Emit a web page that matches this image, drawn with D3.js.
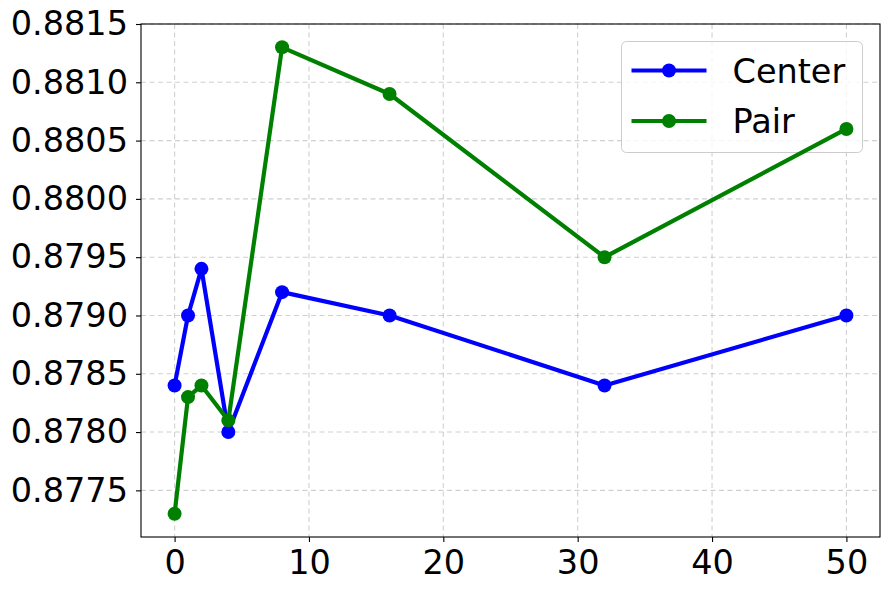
<!DOCTYPE html>
<html>
<head>
<meta charset="utf-8">
<script src="https://cdn.jsdelivr.net/npm/d3@7"></script>
<style>
  body { margin: 0; background: #fff; }
  svg text { font-family: "DejaVu Sans", sans-serif; }
</style>
</head>
<body>
<div id="chart"></div>
<script>
const xValues = [0, 1, 2, 4, 8, 16, 32, 50];
const centerValues = [0.8784, 0.8790, 0.8794, 0.8780, 0.8792, 0.8790, 0.8784, 0.8790];
const pairValues = [0.8773, 0.8783, 0.8784, 0.8781, 0.8813, 0.8809, 0.8795, 0.8806];
const xTicks = [0, 10, 20, 30, 40, 50];
const yTicks = [0.8775, 0.8780, 0.8785, 0.8790, 0.8795, 0.8800, 0.8805, 0.8810, 0.8815];

const seriesList = [
  { name: "Center", values: centerValues, color: "#0000ff" },
  { name: "Pair", values: pairValues, color: "#008000" }
];

const W = 890, H = 590;
const margin = { top: 24, right: 10, bottom: 53, left: 141 };
const width = W - margin.left - margin.right,
  height = H - margin.top - margin.bottom;
const FONT = "33.5px";

const svg = d3.select("#chart").append("svg")
  .attr("width", W).attr("height", H);
const g = svg.append("g")
  .attr("transform", "translate(" + margin.left + "," + margin.top + ")");

const x = d3.scaleLinear().domain([-2.5, 52.5]).range([0, width]);
const y = d3.scaleLinear().domain([0.8771, 0.8815]).range([height, 0]);

// grid
g.append("g").selectAll("line").data(xTicks).enter().append("line")
  .attr("x1", d => x(d)).attr("x2", d => x(d))
  .attr("y1", 0).attr("y2", height)
  .attr("stroke", "#b0b0b0").attr("stroke-opacity", 0.6)
  .attr("stroke-dasharray", "5,3.5").attr("stroke-width", 1.1);
g.append("g").selectAll("line").data(yTicks).enter().append("line")
  .attr("x1", 0).attr("x2", width)
  .attr("y1", d => y(d)).attr("y2", d => y(d))
  .attr("stroke", "#b0b0b0").attr("stroke-opacity", 0.6)
  .attr("stroke-dasharray", "5,3.5").attr("stroke-width", 1.1);

// legend (sits under the data lines, like the reference)
const legend = g.append("g")
  .attr("transform", "translate(" + (621.5 - margin.left) + "," + (41.5 - margin.top) + ")");
legend.append("rect")
  .attr("width", 241).attr("height", 111)
  .attr("rx", 5).attr("ry", 5)
  .attr("fill", "#fff").attr("fill-opacity", 0.8)
  .attr("stroke", "#cccccc").attr("stroke-width", 1);
seriesList.forEach((s, i) => {
  const row = legend.append("g").attr("transform", "translate(0," + (29 + i * 50.5) + ")");
  row.append("line")
    .attr("x1", 10).attr("x2", 85)
    .attr("stroke", s.color).attr("stroke-width", 4.2);
  row.append("circle").attr("cx", 47.5).attr("r", 7).attr("fill", s.color);
  row.append("text")
    .attr("x", 111).attr("dy", "0.36em")
    .attr("font-size", FONT).attr("fill", "#000")
    .text(s.name);
});

// lines + markers
const line = d3.line()
  .x((d, i) => x(xValues[i]))
  .y(d => y(d));

seriesList.forEach(s => {
  g.append("path")
    .datum(s.values)
    .attr("fill", "none")
    .attr("stroke", s.color)
    .attr("stroke-width", 4.2)
    .attr("stroke-linejoin", "round")
    .attr("d", line);
  g.append("g").selectAll("circle").data(s.values).enter().append("circle")
    .attr("cx", (d, i) => x(xValues[i]))
    .attr("cy", d => y(d))
    .attr("r", 7)
    .attr("fill", s.color);
});

// axes
const xAxis = g.append("g")
  .attr("transform", "translate(0," + height + ")")
  .call(d3.axisBottom(x).tickValues(xTicks).tickSize(5).tickPadding(5));
const yAxis = g.append("g")
  .call(d3.axisLeft(y).tickValues(yTicks).tickFormat(d3.format(".4f")).tickSize(5).tickPadding(8));
[xAxis, yAxis].forEach(a => {
  a.select(".domain").remove();
  a.selectAll("line").attr("stroke", "#000").attr("stroke-width", 1.1);
  a.selectAll("text").attr("font-size", FONT).attr("fill", "#000");
});
xAxis.selectAll("text").attr("dy", "0.8em");

// frame
g.append("rect")
  .attr("width", width).attr("height", height)
  .attr("fill", "none").attr("stroke", "#000").attr("stroke-width", 1.1);
</script>
</body>
</html>
